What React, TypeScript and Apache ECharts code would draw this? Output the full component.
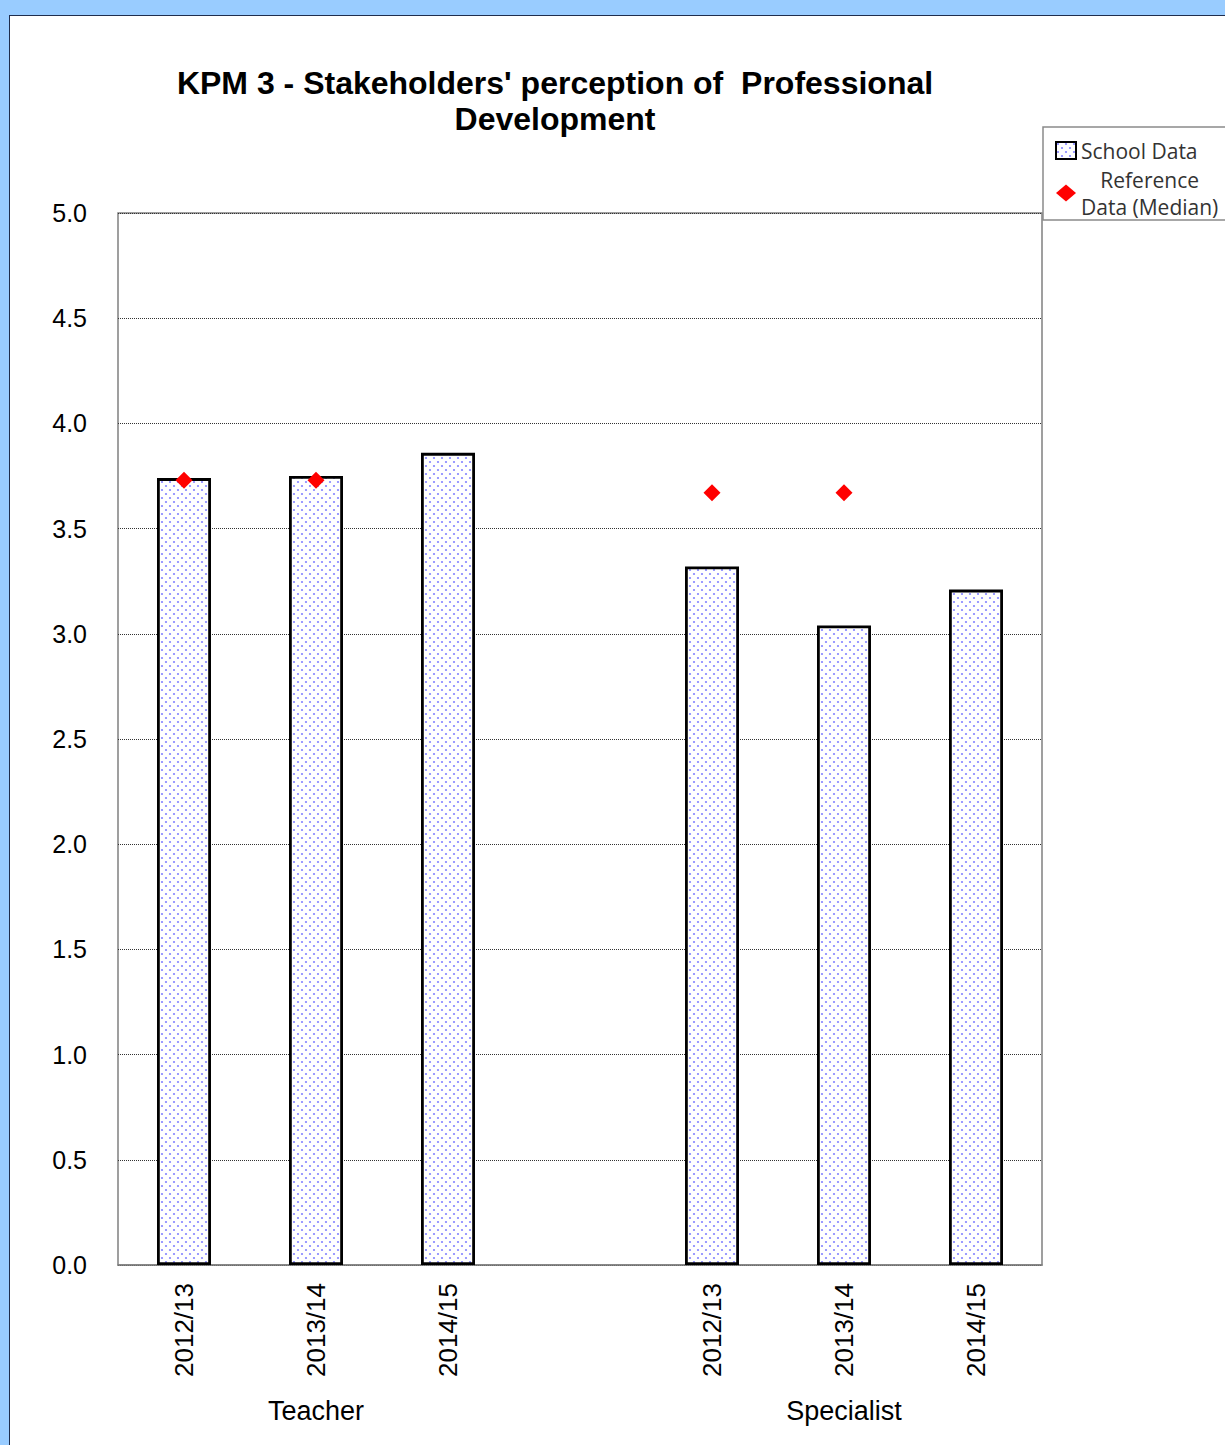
import React, { useEffect, useRef } from "react";
import * as echarts from "echarts";

const titleLines = ["KPM 3 - Stakeholders' perception of  Professional", "Development"];
const groups = ["Teacher", "Specialist"];
const years = ["2012/13", "2013/14", "2014/15"];
const teacherValues = [3.74, 3.75, 3.86];
const specialistValues = [3.32, 3.04, 3.21];
const teacherReference = [3.73, 3.73, null];
const specialistReference = [3.67, 3.67, null];
const yTicks = { min: 0, max: 5, interval: 0.5 };
const seriesNames = ["School Data", "Reference Data (Median)"];

function makePattern(): string {
  const c = document.createElement("canvas");
  c.width = 8;
  c.height = 8;
  const ctx = c.getContext("2d")!;
  ctx.fillStyle = "#ffffff";
  ctx.fillRect(0, 0, 8, 8);
  ctx.fillStyle = "rgba(80,80,255,0.7)";
  ctx.beginPath();
  ctx.arc(2, 2, 1.1, 0, Math.PI * 2);
  ctx.fill();
  ctx.beginPath();
  ctx.arc(6, 6, 1.1, 0, Math.PI * 2);
  ctx.fill();
  return c.toDataURL();
}

export default function App() {
  const ref = useRef<HTMLDivElement>(null);
  useEffect(() => {
    if (!ref.current) return;
    const chart = echarts.init(ref.current, null, { renderer: "svg" });
    const pattern = makePattern();
    const categories = [...years, "", ...years];
    const groupLabels = ["", groups[0], "", "", "", groups[1], ""];
    const barData = [...teacherValues, null, ...specialistValues];
    const refData = [...teacherReference, null, ...specialistReference];
    const font = "'Liberation Sans', Arial, sans-serif";
    const lfont = "'Open Sans', sans-serif";
    chart.setOption({
      animation: false,
      title: {
        text: titleLines.join("\n"),
        left: 550,
        textAlign: "center",
        top: 60,
        textStyle: {
          fontFamily: font,
          fontWeight: "bold",
          fontSize: 32,
          lineHeight: 36,
          color: "#000",
        },
      },
      legend: {
        orient: "vertical",
        left: 1043,
        top: 127,
        padding: [10, 12, 0, 12],
        itemGap: 2,
        itemWidth: 20,
        itemHeight: 17,
        backgroundColor: "#fff",
        borderColor: "#8a8a8a",
        borderWidth: 1.5,
        borderRadius: 0,
        textStyle: {
          fontFamily: lfont,
          fontSize: 21,
          lineHeight: 27,
          color: "#333",
          rich: {
            r: { fontFamily: lfont, fontSize: 21, color: "#333", align: "center", lineHeight: 27 },
            d: { fontFamily: lfont, fontSize: 21, color: "#333", lineHeight: 27 },
          },
        },
        formatter: (name: string) =>
          name === seriesNames[1] ? "{r|Reference}\n{d|Data (Median)}" : name,
        data: [
          { name: seriesNames[0], icon: "rect" },
          { name: seriesNames[1], icon: "diamond" },
        ],
      },
      grid: {
        left: 118,
        top: 213,
        width: 924,
        height: 1052,
        show: true,
        borderColor: "#808080",
        borderWidth: 1.5,
        backgroundColor: "transparent",
      },
      xAxis: [
        {
          type: "category",
          data: categories,
          position: "bottom",
          axisTick: { show: false },
          axisLine: { show: true, lineStyle: { color: "#808080", width: 1.5 } },
          axisLabel: {
            rotate: 90,
            margin: 18,
            interval: 0,
            fontFamily: font,
            fontSize: 26,
            color: "#000",
          },
        },
        {
          type: "category",
          data: groupLabels,
          position: "bottom",
          gridIndex: 0,
          axisTick: { show: false },
          axisLine: { show: false },
          axisLabel: {
            margin: 132,
            interval: 0,
            fontFamily: font,
            fontSize: 27,
            color: "#000",
          },
        },
      ],
      yAxis: {
        type: "value",
        min: yTicks.min,
        max: yTicks.max,
        interval: yTicks.interval,
        axisLine: { show: false },
        axisTick: { show: false },
        axisLabel: {
          margin: 31,
          fontFamily: font,
          fontSize: 25,
          color: "#000",
          formatter: (v: number) => v.toFixed(1),
        },
        splitLine: { show: true, lineStyle: { type: "dotted", color: "#333", width: 1 } },
      },
      series: [
        {
          name: seriesNames[0],
          type: "bar",
          xAxisIndex: 0,
          data: barData,
          barWidth: 54,
          itemStyle: {
            color: { image: pattern, repeat: "repeat" },
            borderColor: "#000",
            borderWidth: 2.8,
          },
          z: 2,
        },
        {
          name: seriesNames[1],
          type: "scatter",
          xAxisIndex: 0,
          data: refData,
          symbol: "diamond",
          symbolSize: 17,
          itemStyle: { color: "#ff0000", opacity: 1 },
          z: 5,
        },
      ],
    });
    return () => chart.dispose();
  }, []);
  return (
    <div style={{ position: "fixed", left: 0, top: 0, width: 1225, height: 1445, background: "#99ccff", overflow: "hidden" }}>
      <div
        style={{
          position: "absolute",
          left: 9,
          top: 15,
          width: 1300,
          height: 1500,
          background: "#fff",
          borderLeft: "1.5px solid #1f2d4d",
          borderTop: "1.5px solid #1f2d4d",
        }}
      />
      <div ref={ref} style={{ position: "absolute", left: 0, top: 0, width: 1225, height: 1445 }} />
    </div>
  );
}
